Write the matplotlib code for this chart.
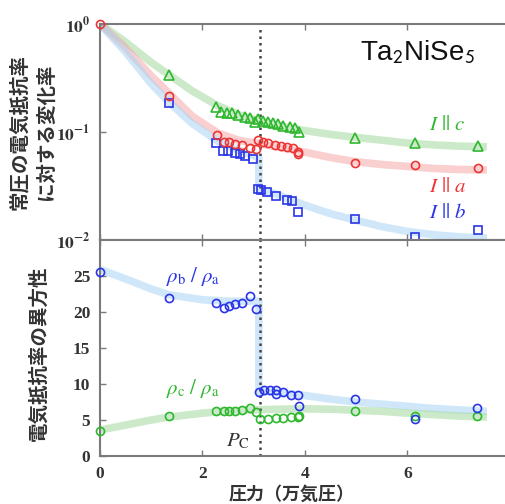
import matplotlib
matplotlib.use("Agg")
import matplotlib.pyplot as plt
from matplotlib.ticker import NullLocator

plt.rcParams['mathtext.fontset'] = 'stix'
plt.rcParams['font.family'] = ['Liberation Serif', 'Noto Sans CJK JP']

# ---- data ----
pc = 3.12

# top panel: resistivity relative to ambient pressure
xc = [1.34, 2.27, 2.37, 2.47, 2.57, 2.70, 2.83, 2.92, 3.02, 3.09, 3.18, 3.28,
      3.38, 3.48, 3.57, 3.70, 3.80, 3.89, 4.97, 6.14, 7.37]
yc = [0.337, 0.172, 0.154, 0.149, 0.149, 0.144, 0.139, 0.134, 0.125, 0.131,
      0.127, 0.125, 0.120, 0.118, 0.114, 0.112, 0.110, 0.101, 0.088, 0.0786, 0.074]

xa = [0, 1.34, 2.28, 2.41, 2.51, 2.64, 2.77, 2.92, 3.05, 3.09, 3.18, 3.28, 3.41,
      3.54, 3.64, 3.77, 3.87, 3.87, 4.97, 6.14, 7.37]
ya = [1.0, 0.215, 0.094, 0.081, 0.080, 0.0774, 0.0758, 0.0706, 0.069, 0.0843,
      0.081, 0.0786, 0.0758, 0.074, 0.073, 0.0706, 0.0657, 0.0626, 0.052, 0.049, 0.046]

xb = [1.34, 2.27, 2.40, 2.50, 2.63, 2.73, 2.83, 2.99, 3.09, 3.15, 3.25, 3.44,
      3.64, 3.74, 3.87, 4.97, 6.14, 7.37]
yb = [0.184, 0.0786, 0.067, 0.0665, 0.0644, 0.0626, 0.060, 0.0558, 0.0294,
      0.0291, 0.028, 0.0255, 0.0235, 0.0229, 0.018, 0.0158, 0.0107, 0.0124]

# guide-to-the-eye bands
band_x = [0, 0.5, 1.0, 1.34, 1.8, 2.3, 2.7, 3.1, 3.5, 4.0, 4.5, 5.0, 5.5, 6.0, 6.5, 7.0, 7.55]
band_c = [1.0, 0.68, 0.44, 0.34, 0.24, 0.175, 0.145, 0.127, 0.114, 0.103, 0.095,
          0.089, 0.084, 0.079, 0.076, 0.074, 0.073]
band_a = [1.0, 0.60, 0.33, 0.23, 0.14, 0.098, 0.084, 0.078, 0.072, 0.065, 0.058,
          0.053, 0.050, 0.048, 0.046, 0.045, 0.0445]
band_b_x = [0, 0.5, 1.0, 1.34, 1.8, 2.3, 2.7, 3.1, 3.1, 3.5, 4.0, 4.5, 5.0, 5.5,
            6.0, 6.5, 7.0, 7.55]
band_b = [1.0, 0.55, 0.28, 0.19, 0.12, 0.082, 0.068, 0.058, 0.030, 0.026, 0.021,
          0.0175, 0.0152, 0.0133, 0.0120, 0.0112, 0.0107, 0.0104]

# bottom panel: anisotropy
xba = [0, 1.34, 2.27, 2.41, 2.51, 2.64, 2.77, 2.92, 3.04, 3.10, 3.20, 3.31, 3.43,
       3.44, 3.57, 3.73, 3.87, 3.88, 4.97, 6.14, 7.36]
yba = [25.6, 22.0, 21.3, 20.6, 20.8, 21.1, 21.3, 22.2, 20.4, 8.9, 9.1, 9.1, 9.2,
       8.6, 8.9, 8.5, 8.5, 7.0, 7.9, 5.2, 6.7]
xca = [0, 1.34, 2.27, 2.41, 2.51, 2.64, 2.77, 2.92, 3.04, 3.12, 3.28, 3.43, 3.57,
       3.73, 3.86, 3.88, 4.97, 6.14, 7.36]
yca = [3.5, 5.6, 6.3, 6.3, 6.3, 6.3, 6.4, 6.6, 6.1, 5.1, 5.2, 5.3, 5.3, 5.4, 5.4,
       5.5, 6.25, 5.6, 5.55]

band_ba_x = [0, 0.5, 1.0, 1.34, 2.0, 2.5, 3.1, 3.1, 3.5, 4.0, 4.5, 5.0, 5.5, 6.0,
             6.5, 7.0, 7.55]
band_ba = [25.9, 24.6, 23.2, 22.4, 21.7, 21.5, 21.5, 9.0, 8.8, 8.4, 7.9, 7.5, 7.2,
           6.9, 6.6, 6.4, 6.2]
band_ca_x = [0, 0.5, 1.0, 1.34, 2.0, 2.5, 3.0, 3.5, 4.0, 4.5, 5.0, 5.5, 6.0, 6.5,
             7.0, 7.55]
band_ca = [3.6, 4.3, 5.0, 5.4, 5.95, 6.25, 6.4, 6.5, 6.55, 6.5, 6.35, 6.2, 5.95,
           5.75, 5.55, 5.4]

green, red, blue = '#2fb82f', '#ec3535', '#2a35e8'
lgreen, lred, lblue = '#a3da9e', '#f7a8a8', '#aad5f5'
spine_c = '#7a7a7a'

fig = plt.figure(figsize=(5.06, 5.04), dpi=100)
W, H = 506, 504
ax1 = fig.add_axes([100 / W, 1 - 240 / H, 410 / W, 216 / H])
ax2 = fig.add_axes([100 / W, 1 - 456 / H, 410 / W, 216 / H])

mk = dict(linestyle='none', markerfacecolor='none', markeredgewidth=1.2, clip_on=False, zorder=3)
bd = dict(linewidth=5.5, alpha=0.55, solid_capstyle='butt', zorder=1)

ax1.set_yscale('log')
ax1.plot(band_x, band_c, color=lgreen, **bd)
ax1.plot(band_x, band_a, color=lred, **bd)
ax1.plot(band_b_x, band_b, color=lblue, **bd)
ax1.plot(xc, yc, marker='^', markersize=6.5, color=green, **mk)
ax1.plot(xb, yb, marker='s', markersize=5.5, color=blue, **mk)
ax1.plot(xa, ya, marker='o', markersize=5.8, color=red, **mk)
ax1.set_ylim(1e-2, 1)
ax1.set_yticks([1e-2, 1e-1, 1])
ax1.set_yticklabels([r'$\mathbf{10^{-2}}$', r'$\mathbf{10^{-1}}$', r'$\mathbf{10^{0}}$'])
ax1.yaxis.set_minor_locator(NullLocator())

ax2.plot(band_ba_x, band_ba, color=lblue, **bd)
ax2.plot(band_ca_x, band_ca, color=lgreen, **bd)
ax2.plot(xca, yca, marker='o', markersize=5.8, color=green, **mk)
ax2.plot(xba, yba, marker='o', markersize=5.8, color=blue, **mk)
ax2.set_ylim(0, 30)
ax2.set_yticks([0, 5, 10, 15, 20, 25])

for ax in (ax1, ax2):
    ax.set_xlim(0, 8)
    ax.set_xticks([0, 2, 4, 6, 8])
    ax.axvline(pc, color='#444444', linestyle=(0, (1, 1.6)), linewidth=1.8, zorder=2,
               ymax=0.98 if ax is ax1 else 1)
    for s in ax.spines.values():
        s.set_color(spine_c)
        s.set_linewidth(1.5)
    ax.spines['right'].set_visible(False)
    ax.tick_params(direction='in', length=4, width=1, color=spine_c, top=True,
                   labelsize=12.5, labelcolor='#333333', pad=7)
    for lab in ax.get_yticklabels() + ax.get_xticklabels():
        lab.set_fontweight('bold')
ax1.tick_params(labelbottom=False)

# annotations
fig.text(418 / W, 1 - 53 / H, r'Ta$_{\mathsf{2}}$NiSe$_{\mathsf{5}}$', fontsize=20,
         family='Liberation Sans', ha='center', va='center', color='#111111')
fig.text(447 / W, 1 - 126 / H, r'$I\ ||\ c$', fontsize=15, color=green, ha='center', va='center')
fig.text(448 / W, 1 - 188 / H, r'$I\ ||\ a$', fontsize=15, color=red, ha='center', va='center')
fig.text(448 / W, 1 - 213 / H, r'$I\ ||\ b$', fontsize=15, color=blue, ha='center', va='center')
fig.text(193 / W, 1 - 276 / H, r'$\rho_{\rm b}\ /\ \rho_{\rm a}$', fontsize=15, color=blue,
         ha='center', va='center')
fig.text(193 / W, 1 - 388 / H, r'$\rho_{\rm c}\ /\ \rho_{\rm a}$', fontsize=15, color=green,
         ha='center', va='center')
fig.text(238 / W, 1 - 441 / H, r'$P_{\rm C}$', fontsize=15, color='#333333',
         ha='center', va='center')

jp = dict(family='Noto Sans CJK JP', fontweight='bold', color='#333333',
          rotation=90, ha='center', va='center')
fig.text(19 / W, 1 - 132 / H, '常圧の電気抵抗率', fontsize=14, **jp)
fig.text(46 / W, 1 - 132 / H, 'に対する変化率', fontsize=14, **jp)
fig.text(39 / W, 1 - 353 / H, '電気抵抗率の異方性', fontsize=14, **jp)
fig.text(292 / W, 1 - 494 / H, '圧力（万気圧）', fontsize=13, family='Noto Sans CJK JP',
         fontweight='bold', color='#333333', ha='center', va='center')

fig.savefig('out.png', dpi=100)
